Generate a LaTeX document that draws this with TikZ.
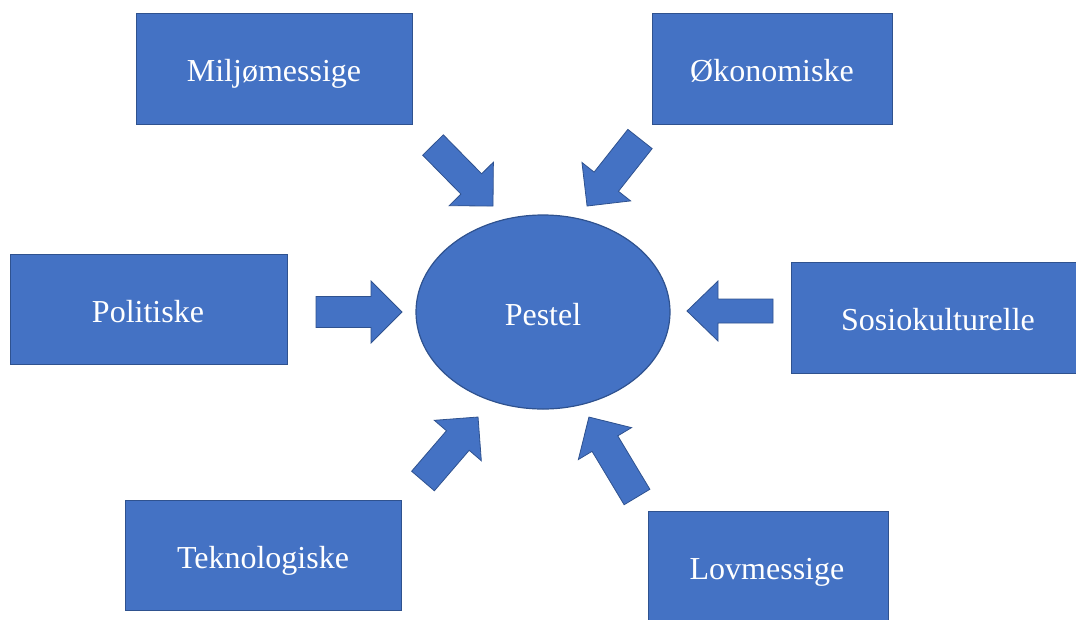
\documentclass[tikz,border=0pt]{standalone}
\usepackage{fontspec}
\setmainfont{Liberation Serif}
\usetikzlibrary{shapes.geometric}
\definecolor{fillblue}{HTML}{4472C4}
\definecolor{edgeblue}{HTML}{2F528F}
\begin{document}
\begin{tikzpicture}[x=1pt,y=-1pt,
  factor/.style={draw=edgeblue,line width=1.2pt,fill=fillblue,
    inner sep=0pt,anchor=north west},
  label/.style={text=white,font=\fontsize{32}{38}\selectfont,inner sep=0pt,anchor=base},
  centre/.style={draw=edgeblue,line width=1.2pt,fill=fillblue,ellipse,inner sep=0pt},
  arrowfill/.style={draw=edgeblue,line width=0.8pt,fill=fillblue,line join=miter},
  pics/blockarrow/.style args={#1/#2/#3/#4}{code={
    \draw[arrowfill] (0,-#3) -- (#1-#2,-#3) -- (#1-#2,-#4) -- (#1,0)
      -- (#1-#2,#4) -- (#1-#2,#3) -- (0,#3) -- cycle;}}]
\useasboundingbox (0,0) rectangle (1076,619);

% six factor boxes
\node[factor,minimum width=276pt,minimum height=111pt] (milj) at (136,13) {};
\node[factor,minimum width=240pt,minimum height=111pt] (okon) at (652,13) {};
\node[factor,minimum width=277pt,minimum height=110pt] (poli) at (10,254) {};
\node[factor,minimum width=286pt,minimum height=111pt] (sosi) at (791,262) {};
\node[factor,minimum width=276pt,minimum height=110pt] (tekn) at (125,500) {};
\node[factor,minimum width=240pt,minimum height=112pt] (lovm) at (648,511) {};

% their captions, placed on the baseline
\node[label] (miljtext) at (274,81) {Miljømessige};
\node[label] (okontext) at (772,81) {Økonomiske};
\node[label] (politext) at (148,322) {Politiske};
\node[label] (sositext) at (938,330) {Sosiokulturelle};
\node[label] (tekntext) at (263,568) {Teknologiske};
\node[label] (lovmtext) at (767,579) {Lovmessige};

% central ellipse
\node[centre,minimum width=254pt,minimum height=194pt] (pest) at (543,312) {};
\node[label] (pesttext) at (543,325) {Pestel};

% block arrows pointing at the centre
\pic[rotate=0] at (316,312) {blockarrow=86/31/15.5/31};
\pic[rotate=180] at (773,311) {blockarrow=86/31/12/30};
\pic[rotate=-45.5] at (433,145) {blockarrow=85.6/31/14.5/31};
\pic[rotate=-128.3] at (640,139) {blockarrow=85.4/31/15.5/31};
\pic[rotate=49.3] at (423,481) {blockarrow=84.4/31/15/31};
\pic[rotate=121] at (637,497) {blockarrow=93.3/31/15/31};
\end{tikzpicture}
\end{document}
